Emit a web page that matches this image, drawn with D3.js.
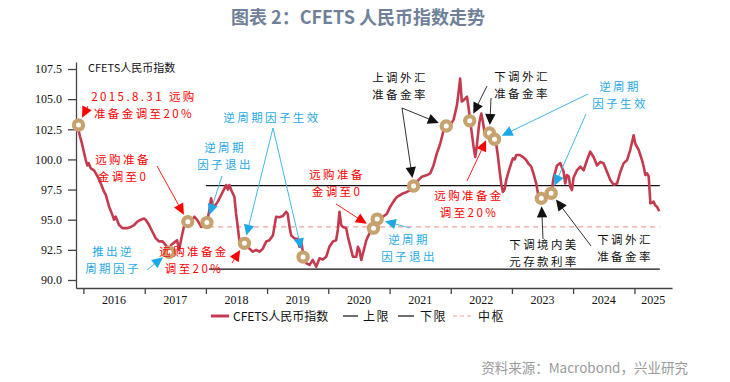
<!DOCTYPE html>
<html><head><meta charset="utf-8">
<script src="https://cdn.jsdelivr.net/npm/d3@7"></script>
<style>
html,body{margin:0;padding:0;background:#fff;}
svg{display:block;}
</style></head>
<body>
<svg id="chart" width="730" height="382"></svg>
<script>
// ---------------- DATA ----------------
const indexDates = ["2015-11-24","2015-11-30","2015-12-12","2015-12-22","2016-01-01","2016-01-15","2016-01-25","2016-02-01","2016-02-14","2016-03-05","2016-03-25","2016-04-14","2016-05-04","2016-05-14","2016-05-23","2016-06-02","2016-06-22","2016-07-02","2016-07-12","2016-08-01","2016-08-21","2016-09-20","2016-10-10","2016-10-30","2016-11-18","2016-12-09","2016-12-28","2017-01-07","2017-01-27","2017-02-16","2017-03-08","2017-03-28","2017-04-17","2017-05-07","2017-05-27","2017-06-07","2017-06-25","2017-07-13","2017-07-25","2017-08-10","2017-08-26","2017-09-15","2017-10-05","2017-10-25","2017-11-14","2017-12-04","2017-12-21","2018-01-07","2018-01-22","2018-02-01","2018-02-10","2018-02-21","2018-03-13","2018-04-02","2018-04-22","2018-05-02","2018-05-12","2018-05-21","2018-06-01","2018-06-20","2018-06-30","2018-07-11","2018-07-20","2018-07-30","2018-08-19","2018-09-18","2018-10-08","2018-10-28","2018-11-17","2018-12-07","2018-12-27","2019-01-15","2019-02-05","2019-02-24","2019-03-16","2019-04-05","2019-04-25","2019-05-04","2019-05-15","2019-05-25","2019-06-13","2019-07-04","2019-07-13","2019-07-24","2019-08-04","2019-08-22","2019-09-11","2019-10-01","2019-10-21","2019-11-10","2019-11-30","2019-12-20","2020-01-08","2020-01-29","2020-02-17","2020-02-27","2020-03-08","2020-03-18","2020-03-28","2020-04-17","2020-04-27","2020-05-07","2020-05-27","2020-06-16","2020-06-26","2020-07-05","2020-07-16","2020-07-26","2020-08-15","2020-09-03","2020-09-27","2020-10-19","2020-11-18","2020-12-16","2021-01-05","2021-01-24","2021-02-14","2021-03-06","2021-03-25","2021-04-14","2021-05-04","2021-05-24","2021-06-23","2021-07-13","2021-08-12","2021-09-01","2021-09-20","2021-10-10","2021-10-30","2021-11-19","2021-12-05","2021-12-29","2022-01-18","2022-02-07","2022-02-16","2022-02-26","2022-03-08","2022-03-18","2022-04-08","2022-04-18","2022-04-27","2022-05-17","2022-05-27","2022-06-06","2022-06-20","2022-07-02","2022-07-12","2022-07-22","2022-08-07","2022-08-20","2022-09-06","2022-09-19","2022-09-29","2022-10-10","2022-10-19","2022-10-29","2022-11-08","2022-11-18","2022-11-28","2022-12-08","2022-12-18","2022-12-28","2023-01-07","2023-01-17","2023-01-27","2023-02-15","2023-03-08","2023-03-27","2023-04-07","2023-04-26","2023-05-06","2023-05-26","2023-06-05","2023-06-19","2023-06-25","2023-07-12","2023-08-05","2023-08-23","2023-09-06","2023-09-27","2023-10-16","2023-11-05","2023-11-15","2023-11-25","2023-12-06","2023-12-15","2023-12-25","2024-01-04","2024-01-24","2024-02-13","2024-03-04","2024-03-24","2024-04-12","2024-05-02","2024-05-23","2024-06-12","2024-07-01","2024-07-21","2024-08-10","2024-08-30","2024-09-19","2024-10-09","2024-10-28","2024-11-18","2024-12-07","2024-12-27","2025-01-06","2025-01-26","2025-02-15","2025-02-25","2025-03-07","2025-03-17","2025-03-27","2025-04-06","2025-04-16","2025-04-25","2025-05-05","2025-05-15","2025-05-29"];
const indexValues = [102.9,102.6,101.9,101.4,100.8,99.95,99.5,99.7,99.26,99.1,98.6,98.0,97.3,97.05,96.6,96.1,95.4,95.0,95.25,94.56,94.3,94.3,94.4,94.56,94.84,95.0,95.1,95.0,94.56,94.0,93.45,93.2,93.2,92.9,92.3,92.9,93.1,93.3,92.5,93.6,94.6,94.84,94.9,95.25,94.9,94.4,94.6,94.76,95.8,96.78,96.2,96.1,96.5,97.05,97.6,97.88,97.5,97.88,97.46,96.9,95.5,94.3,93.2,92.76,93.04,92.6,92.35,92.5,92.35,92.6,93.2,93.3,93.7,95.25,95.2,95.3,95.66,95.5,94.4,93.7,93.45,93.4,92.76,93.2,92.2,91.4,91.25,91.66,91.1,91.8,91.7,91.93,92.76,93.2,93.3,94.15,95.66,94.56,94.4,94.3,93.6,93.04,91.93,91.93,92.76,92.5,91.66,92.2,93.3,93.87,94.4,95.0,95.2,95.5,96.08,96.5,96.9,97.05,97.2,97.3,97.46,97.8,98.3,98.57,98.7,98.85,99.5,100.5,101.3,102.4,102.8,102.86,103.3,104.5,105.5,106.7,104.8,104.9,105.2,104.2,103.2,101.06,100.2,101.2,103.0,103.8,103.1,102.2,102.4,102.2,101.9,101.67,101.3,100.2,99.1,98.0,97.3,97.5,98.3,98.8,99.26,99.7,100.1,100.0,100.37,100.37,100.2,99.95,99.7,99.4,98.98,98.0,97.2,96.8,96.77,96.9,97.0,97.1,98.43,99.5,99.7,99.0,98.0,98.7,98.6,97.74,97.46,98.5,99.1,99.4,99.1,99.95,100.64,100.2,99.5,99.8,99.67,98.98,98.3,97.9,98.0,98.98,99.67,99.95,100.8,102.0,101.3,100.8,99.95,99.4,98.7,98.85,98.6,96.36,96.4,96.5,96.2,96.08,95.7];

// policy events (circles)
const eventDates  = ["2015-12-03","2017-05-27","2017-09-15","2018-01-07","2018-08-19","2019-08-04","2020-09-27","2020-10-19","2021-05-24","2021-12-05","2022-04-24","2022-08-20","2022-09-19","2023-06-25","2023-08-23"];
const eventValues = [102.86,92.3,94.84,94.76,93.04,91.9,94.3,95.05,97.8,102.77,103.2,102.2,101.67,96.77,97.2];

// band lines
const bandNames  = ["上限","下限","中枢"];
const bandValues = [97.82,90.9,94.4];
const bandStart  = ["2018-01-01","2018-01-20","2018-01-20"];
const bandEnd    = "2025-06-01";

const yTicks = [90.0,92.5,95.0,97.5,100.0,102.5,105.0,107.5];
const yearTicks = [2016,2017,2018,2019,2020,2021,2022,2023,2024,2025];

const seriesName = "CFETS人民币指数";
const titleText = "图表 2：CFETS 人民币指数走势";
const sourceText = "资料来源：Macrobond，兴业研究";

// ---------------- LAYOUT ----------------
const L = 76, R = 672, T = 62, B = 288;
const parse = d3.timeParse("%Y-%m-%d");
const svg = d3.select("#chart");
const x = d3.scaleTime().domain([parse("2015-11-18"), parse("2025-08-13")]).range([L, R]);
const y = d3.scaleLinear().domain([89.336, 108.08]).range([B, T]);

const COL_RED_LINE = "#c43b50";
const COL_RING = "#c6a26e";
const CJK = "'Noto Sans CJK SC','Noto Sans',sans-serif";
const SERIF = "'Liberation Serif','DejaVu Serif',serif";

// title
svg.append("text").attr("x", 358).attr("y", 24).attr("text-anchor", "middle")
  .attr("font-family", CJK).attr("font-weight", "bold").attr("font-size", 18)
  .attr("fill", "#6e8199").text(titleText);

// source
svg.append("text").attr("x", 688).attr("y", 373).attr("text-anchor", "end")
  .attr("font-family", CJK).attr("font-size", 13.5).attr("fill", "#9a9a9a").text(sourceText);

// y axis
const yAx = svg.append("g").attr("transform", `translate(${L},0)`)
  .call(d3.axisLeft(y).tickValues(yTicks).tickSize(8).tickSizeOuter(0).tickPadding(6).tickFormat(d => d.toFixed(1)));
yAx.selectAll("path,line").attr("stroke", "#444").attr("stroke-width", 1.3);
yAx.selectAll("text").attr("font-family", SERIF).attr("font-size", 12).attr("fill", "#111");

// x axis
const yearDates = yearTicks.map(yr => new Date(yr, 0, 1));
const xAx = svg.append("g").attr("transform", `translate(0,${B})`)
  .call(d3.axisBottom(x).tickValues(yearDates).tickSize(6).tickSizeOuter(0).tickFormat(""));
xAx.selectAll("path,line").attr("stroke", "#444").attr("stroke-width", 1.3);
svg.append("g").selectAll("text").data(yearTicks).join("text")
  .attr("x", (yr, i) => {
    const a = x(new Date(yr, 0, 1));
    const b = i < yearTicks.length - 1 ? x(new Date(yr + 1, 0, 1)) : R;
    return (a + b) / 2;
  })
  .attr("y", 304).attr("text-anchor", "middle")
  .attr("font-family", SERIF).attr("font-size", 12).attr("fill", "#111").text(d => d);

// inner label
svg.append("text").attr("x", 88).attr("y", 72).attr("font-family", CJK).attr("font-size", 11)
  .attr("fill", "#111").text(seriesName);

// band lines
const bandStyle = [
  {stroke: "#111", w: 1.3, dash: null},
  {stroke: "#111", w: 1.3, dash: null},
  {stroke: "#f2a0a0", w: 1.2, dash: "5,4"}
];
bandValues.forEach((v, i) => {
  svg.append("line")
    .attr("x1", x(parse(bandStart[i]))).attr("x2", x(parse(bandEnd)))
    .attr("y1", y(v)).attr("y2", y(v))
    .attr("stroke", bandStyle[i].stroke).attr("stroke-width", bandStyle[i].w)
    .attr("stroke-dasharray", bandStyle[i].dash);
});

// series
const series = indexDates.map((d, i) => ({d: parse(d), v: indexValues[i]}));
svg.append("path").datum(series)
  .attr("fill", "none").attr("stroke", COL_RED_LINE).attr("stroke-width", 2.6)
  .attr("stroke-linejoin", "round")
  .attr("d", d3.line().x(p => x(p.d)).y(p => y(p.v)));

// event circles
const events = eventDates.map((d, i) => ({cx: x(parse(d)), cy: y(eventValues[i])}));
svg.append("g").selectAll("circle").data(events).join("circle")
  .attr("cx", e => e.cx).attr("cy", e => e.cy).attr("r", 4.6)
  .attr("fill", "#fff").attr("stroke", COL_RING).attr("stroke-width", 4.2);

// annotations
const RED = "#ff0000", BLUE = "#1ea9e6", BLACK = "#111";
const SHAFT = {[RED]: "#ff2020", [BLUE]: "#45b8ea", [BLACK]: "#333"};
const notes = [
  {lines: ["2015.8.31  远购", "准备金调至20%"], cx: 144, y0: 101, c: RED, arrows: [{from: [88, 106], to: 0}]},
  {lines: ["远购准备", "金调至0"], cx: 123, y0: 164, c: RED, arrows: [{from: [157, 166], to: 2}]},
  {lines: ["远购准备金", "调至20%"], cx: 194, y0: 256, c: RED, arrows: [{from: [232, 263], to: 4}]},
  {lines: ["逆周期", "因子退出"], cx: 225, y0: 152, c: BLUE, arrows: [{from: [222, 176], to: 3}]},
  {lines: ["逆周期因子生效"], cx: 272, y0: 122, c: BLUE, arrows: [{from: [273, 128], to: 4}, {from: [273, 128], to: 5}]},
  {lines: ["推出逆", "周期因子"], cx: 113, y0: 256, c: BLUE, arrows: [{from: [147, 270], to: 1}]},
  {lines: ["远购准备", "金调至0"], cx: 337, y0: 179, c: RED, arrows: [{from: [336, 204], to: 6}]},
  {lines: ["逆周期", "因子退出"], cx: 409, y0: 244, c: BLUE, arrows: [{from: [410, 228], to: 7}]},
  {lines: ["上调外汇", "准备金率"], cx: 400, y0: 82, c: BLACK, arrows: [{from: [402, 108], to: 8}, {from: [402, 108], to: 9}]},
  {lines: ["下调外汇", "准备金率"], cx: 522, y0: 81, c: BLACK, arrows: [{from: [487, 86], to: 10}, {from: [491, 98], to: 11}]},
  {lines: ["远购准备金", "调至20%"], cx: 469, y0: 200, c: RED, arrows: [{from: [467, 181], to: 11}]},
  {lines: ["逆周期", "因子生效"], cx: 620, y0: 91, c: BLUE, arrows: [{from: [588, 94], to: 12}, {from: [586, 114], to: 14}]},
  {lines: ["下调境内美", "元存款利率"], cx: 544, y0: 249, c: BLACK, arrows: [{from: [543, 239], to: 13}]},
  {lines: ["下调外汇", "准备金率"], cx: 625, y0: 244, c: BLACK, arrows: [{from: [591, 246], to: 14}]}
];

const gA = svg.append("g");
notes.forEach(n => {
  n.lines.forEach((t, k) => {
    gA.append("text").attr("x", n.cx).attr("y", n.y0 + k * 17)
      .attr("text-anchor", "middle").attr("font-family", CJK).attr("font-size", 11.5)
      .attr("letter-spacing", 2.4).attr("fill", n.c).text(t);
  });
  n.arrows.forEach(a => {
    const e = events[a.to];
    const dx = e.cx - a.from[0], dy = e.cy - a.from[1];
    const len = Math.hypot(dx, dy), ux = dx / len, uy = dy / len;
    const tipX = e.cx - ux * 8, tipY = e.cy - uy * 8;
    const hl = 11, hw = 5.2;
    const bx = tipX - ux * hl, by = tipY - uy * hl;
    gA.append("line").attr("x1", a.from[0]).attr("y1", a.from[1]).attr("x2", bx + ux * 2).attr("y2", by + uy * 2)
      .attr("stroke", SHAFT[n.c]).attr("stroke-width", 1);
    gA.append("path")
      .attr("d", `M${tipX},${tipY}L${bx - uy * hw},${by + ux * hw}L${bx + uy * hw},${by - ux * hw}Z`)
      .attr("fill", n.c);
  });
});

// legend
const lg = svg.append("g").attr("font-family", CJK).attr("font-size", 12).attr("fill", "#111");
const ly = 316;
lg.append("line").attr("x1", 211).attr("x2", 229).attr("y1", ly).attr("y2", ly).attr("stroke", COL_RED_LINE).attr("stroke-width", 3);
lg.append("text").attr("x", 233).attr("y", ly + 4.5).text(seriesName);
lg.append("line").attr("x1", 343).attr("x2", 358).attr("y1", ly).attr("y2", ly).attr("stroke", "#111").attr("stroke-width", 1.2);
lg.append("text").attr("x", 363).attr("y", ly + 4.5).attr("letter-spacing", 1.5).text(bandNames[0]);
lg.append("line").attr("x1", 398).attr("x2", 414).attr("y1", ly).attr("y2", ly).attr("stroke", "#111").attr("stroke-width", 1.2);
lg.append("text").attr("x", 420).attr("y", ly + 4.5).attr("letter-spacing", 1.5).text(bandNames[1]);
lg.append("line").attr("x1", 453).attr("x2", 474).attr("y1", ly).attr("y2", ly).attr("stroke", "#f2a0a0").attr("stroke-width", 1.2).attr("stroke-dasharray", "4,3");
lg.append("text").attr("x", 478).attr("y", ly + 4.5).attr("letter-spacing", 1.5).text(bandNames[2]);
</script>
</body></html>
